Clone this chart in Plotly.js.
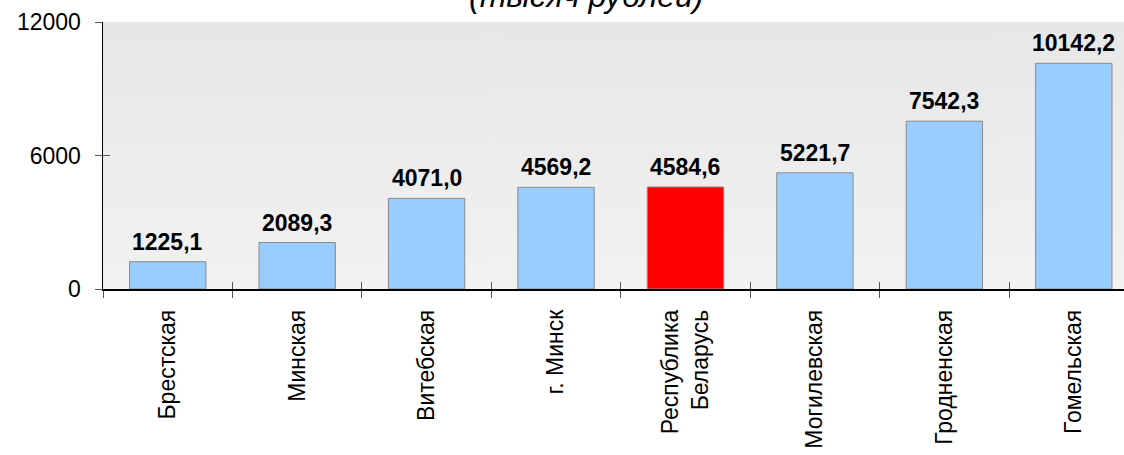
<!DOCTYPE html>
<html>
<head>
<meta charset="utf-8">
<script src="https://cdn.plot.ly/plotly-3.0.1.min.js"></script>
<style>html,body{margin:0;padding:0;background:#fff}#chart{width:1124px;height:455px}</style>
</head>
<body>
<div id="chart"></div>
<script>
const categories = ["Брестская", "Минская", "Витебская", "г. Минск", "Республика<br>Беларусь", "Могилевская", "Гродненская", "Гомельская"];
const values = [1225.1, 2089.3, 4071.0, 4569.2, 4584.6, 5221.7, 7542.3, 10142.2];
const valueLabels = ["1225,1", "2089,3", "4071,0", "4569,2", "4584,6", "5221,7", "7542,3", "10142,2"];
const highlight = "Республика<br>Беларусь";
const yTicks = [0, 6000, 12000];
const yTickText = ["0", "6000", "12000"];
const titleText = "(тысяч рублей)";

// gradient background image
const cv = document.createElement('canvas');
cv.width = 4; cv.height = 256;
const ctx = cv.getContext('2d');
const g = ctx.createLinearGradient(0, 0, 0, 256);
g.addColorStop(0, '#e7e7e7');
g.addColorStop(1, '#f2f2f2');
ctx.fillStyle = g; ctx.fillRect(0, 0, 4, 256);
const bgUrl = cv.toDataURL();

const FONT = "Liberation Sans, Arial, sans-serif";

const trace = {
  type: 'bar',
  x: categories,
  y: values,
  width: 0.59,
  marker: {
    color: categories.map(c => c === highlight ? '#ff0000' : '#99ccff'),
    line: {color: '#8a8a8a', width: 1}
  },
  hoverinfo: 'none'
};

const annotations = categories.map((c, i) => ({
  x: c, y: values[i], xref: 'x', yref: 'y',
  text: '<b>' + valueLabels[i] + '</b>',
  showarrow: false, yanchor: 'bottom', yshift: 5,
  font: {family: FONT, size: 23, color: '#000'}
}));

annotations.push({
  xref: 'paper', yref: 'paper', x: (586 - 103) / 1021, y: 1,
  xanchor: 'center', yanchor: 'middle', yshift: 26,
  text: '<i>' + titleText + '</i>', showarrow: false,
  font: {family: FONT, size: 32, color: '#000'}
});

const layout = {
  width: 1124, height: 455,
  margin: {l: 103, r: 0, t: 22, b: 166, pad: 0},
  paper_bgcolor: '#ffffff',
  plot_bgcolor: 'rgba(0,0,0,0)',
  showlegend: false,
  images: [{
    source: bgUrl, xref: 'paper', yref: 'paper', x: 0, y: 1,
    sizex: 1, sizey: 1, sizing: 'stretch', layer: 'below'
  }],
  xaxis: {
    type: 'category',
    range: [-0.5, 7.388],
    tickson: 'boundaries',
    ticks: 'outside', ticklen: 7, tickcolor: '#555', tickwidth: 1,
    showline: true, linecolor: '#000', linewidth: 1.5,
    showgrid: false, zeroline: false,
    tickangle: -90,
    ticklabelstandoff: 10,
    tickfont: {family: FONT, size: 23, color: '#000'}
  },
  xaxis2: {
    type: 'category', overlaying: 'x', matches: 'x',
    tickson: 'boundaries', ticks: 'inside', ticklen: 7, tickcolor: '#555',
    showticklabels: false, showline: false, showgrid: false, zeroline: false
  },
  yaxis: {
    range: [0, 12000],
    tickmode: 'array', tickvals: yTicks, ticktext: yTickText,
    ticks: 'outside', ticklen: 7, tickcolor: '#555',
    showline: true, linecolor: '#000', linewidth: 1.5,
    showgrid: false, zeroline: false,
    ticklabelstandoff: 9,
    tickfont: {family: FONT, size: 23, color: '#000'}
  },
  yaxis2: {
    range: [0, 12000], overlaying: 'y', matches: 'y',
    tickmode: 'array', tickvals: yTicks,
    ticks: 'inside', ticklen: 7, tickcolor: '#555',
    showticklabels: false, showline: false, showgrid: false, zeroline: false
  },
  annotations: annotations
};

const helper = {type: 'scatter', x: [categories[0]], y: [0], xaxis: 'x2', yaxis: 'y2',
  mode: 'markers', marker: {opacity: 0}, hoverinfo: 'none'};

Plotly.newPlot('chart', [trace, helper], layout, {displayModeBar: false, staticPlot: true});
</script>
</body>
</html>
